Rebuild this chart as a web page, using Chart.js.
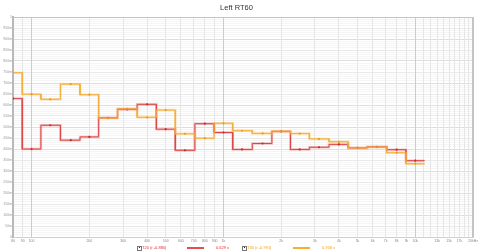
<!DOCTYPE html>
<html>
<head>
<meta charset="utf-8">
<script src="https://cdn.jsdelivr.net/npm/chart.js@4"></script>
<style>
body { margin: 0; background: #fff; }
#wrap { position: relative; width: 480px; height: 252px; }
.lg { position: absolute; top: 245px; font: 4px 'Liberation Sans', sans-serif; line-height: 5px; white-space: nowrap; }
.cb { position: absolute; top: 245.5px; width: 3px; height: 3px; border: 0.6px solid #777; background: #fff; }
.cb::after { content: ''; position: absolute; left: 0.8px; top: 0.5px; width: 1.4px; height: 1.4px; background: #333; }
.ln { position: absolute; top: 247px; height: 1.5px; }
</style>
</head>
<body>
<div id="wrap">
  <canvas id="myChart" width="480" height="252"></canvas>
  <span class="cb" style="left:137px"></span>
  <span class="lg" style="left:142px;color:#e03030">T20 (r -0.880)</span>
  <span class="ln" style="left:187px;width:17px;background:#e05050"></span>
  <span class="lg" style="left:216px;color:#e03030">0.629 s</span>
  <span class="cb" style="left:242px"></span>
  <span class="lg" style="left:247px;color:#f0a020">T30 (r -0.991)</span>
  <span class="ln" style="left:293px;width:17px;background:#f5b030"></span>
  <span class="lg" style="left:322px;color:#f0a020">0.768 s</span>
</div>
<script>
const bandCenters = [80, 100, 125, 160, 200, 250, 315, 400, 500, 630, 800, 1000, 1250, 1600, 2000, 2500, 3150, 4000, 5000, 6300, 8000, 10000];
const t20Values = [0.629, 0.400, 0.508, 0.440, 0.455, 0.542, 0.580, 0.603, 0.490, 0.394, 0.515, 0.475, 0.398, 0.425, 0.480, 0.398, 0.408, 0.421, 0.405, 0.410, 0.397, 0.347];
const t30Values = [0.747, 0.649, 0.626, 0.695, 0.647, 0.540, 0.583, 0.544, 0.577, 0.469, 0.449, 0.517, 0.483, 0.471, 0.481, 0.470, 0.446, 0.433, 0.405, 0.408, 0.383, 0.333];

const xTickValues = [80, 90, 100, 200, 300, 400, 500, 600, 700, 800, 900, 1000, 2000, 3000, 4000, 5000, 6000, 7000, 8000, 9000, 10000,
    11000, 12000, 13000, 14000, 15000, 16000, 17000, 18000, 19000, 20000];
const xTickLabels = ['80', '90', '100', '200', '300', '400', '500', '600', '700', '800', '900', '1k', '2k', '3k', '4k', '5k', '6k', '7k', '8k', '9k', '10k',
    '', '', '13k', '', '15k', '', '17k', '', '', '20kHz'];

// y grid every 10 ms, labels every 50 ms
const yTickValues = [];
for (let i = 0; i <= 100; i++) yTickValues.push(i / 100);

// band edges halfway (in log) between centres
function stepPoints(values) {
    const pts = [];
    const radii = [];
    for (let i = 0; i < bandCenters.length; i++) {
        const c = bandCenters[i];
        const lo = i > 0 ? Math.sqrt(c * bandCenters[i - 1]) : c * c / Math.sqrt(c * bandCenters[1]);
        const hi = i < bandCenters.length - 1 ? Math.sqrt(c * bandCenters[i + 1]) : c * c / Math.sqrt(c * bandCenters[i - 1]);
        pts.push({x: lo, y: values[i]}, {x: c, y: values[i]}, {x: hi, y: values[i]});
        radii.push(0, 1.1, 0);
    }
    return {pts, radii};
}
const t20 = stepPoints(t20Values);
const t30 = stepPoints(t30Values);

const framePlugin = {
    id: 'frame',
    beforeDatasetsDraw(chart) {
        const a = chart.chartArea;
        const g = chart.ctx;
        g.save();
        g.strokeStyle = '#c4c4c4';
        g.lineWidth = 1;
        g.beginPath();
        g.moveTo(a.left, a.top + 0.5);
        g.lineTo(a.right, a.top + 0.5);
        g.stroke();
        g.lineWidth = 2;
        g.beginPath();
        g.moveTo(a.right, a.top);
        g.lineTo(a.right, a.bottom);
        g.stroke();
        g.restore();
    }
};

const ctx = document.getElementById('myChart');

let newChart = new Chart(ctx, {
    type: 'line',
    data: {
        datasets: [{
            label: 'T30 glow',
            data: t30.pts,
            borderColor: 'rgba(247, 185, 70, 0.4)',
            borderWidth: 2.5,
            pointRadius: 0,
        }, {
            label: 'T20 glow',
            data: t20.pts,
            borderColor: 'rgba(230, 90, 90, 0.35)',
            borderWidth: 2.5,
            pointRadius: 0,
        }, {
            label: 'T30 (r -0.991)',
            data: t30.pts,
            borderColor: '#f2a838',
            borderWidth: 1,
            pointRadius: t30.radii,
            pointBackgroundColor: '#e08a10',
            pointBorderWidth: 0,
        }, {
            label: 'T20 (r -0.880)',
            data: t20.pts,
            borderColor: '#d84040',
            borderWidth: 1,
            pointRadius: t20.radii,
            pointBackgroundColor: '#b01818',
            pointBorderWidth: 0,
        }]
    },
    options: {
        animation: false,
        responsive: false,
        parsing: false,
        layout: { padding: { left: 0, right: 7, top: 0, bottom: 8 } },
        plugins: {
            legend: { display: false },
            tooltip: { enabled: false },
            title: {
                display: true,
                text: 'Left RT60',
                color: '#333',
                font: { family: 'Liberation Sans', size: 7.5, weight: 'normal' },
                padding: { top: 3, bottom: 5 }
            }
        },
        scales: {
            x: {
                type: 'logarithmic',
                min: 80,
                max: 20000,
                afterBuildTicks: s => { s.ticks = xTickValues.map(v => ({value: v})); },
                afterFit: s => { s.height = 7; },
                ticks: {
                    autoSkip: false,
                    maxRotation: 0,
                    padding: 2,
                    color: '#888',
                    font: { family: 'Liberation Sans', size: 3.5 },
                    callback: (v) => xTickLabels[xTickValues.indexOf(v)]
                },
                grid: {
                    z: -1,
                    drawTicks: false,
                    color: c => [100, 1000, 10000].includes(c.tick.value) ? '#cccccc' : '#e6e6e6',
                    lineWidth: 1
                },
                border: { color: '#d0d0d0', width: 1 }
            },
            y: {
                min: 0,
                max: 1,
                afterBuildTicks: s => { s.ticks = yTickValues.map(v => ({value: v})); },
                afterFit: s => { s.width = 13; },
                ticks: {
                    autoSkip: false,
                    padding: 1,
                    color: '#999',
                    font: { family: 'Liberation Sans', size: 3.5 },
                    callback: (v) => {
                        const ms = Math.round(v * 1000);
                        if (ms % 50 !== 0) return '';
                        if (ms === 0) return '0';
                        if (ms === 1000) return '1';
                        return ms + 'm';
                    }
                },
                grid: {
                    z: -3,
                    drawTicks: false,
                    color: c => {
                        const ms = Math.round(c.tick.value * 1000);
                        if (ms % 100 === 0) return '#dedede';
                        if (ms % 50 === 0) return '#e9e9e9';
                        return '#f5f5f5';
                    }
                },
                border: { color: '#b8b8b8', width: 2 }
            }
        }
    },
    plugins: [framePlugin]
});
</script>
</body>
</html>
